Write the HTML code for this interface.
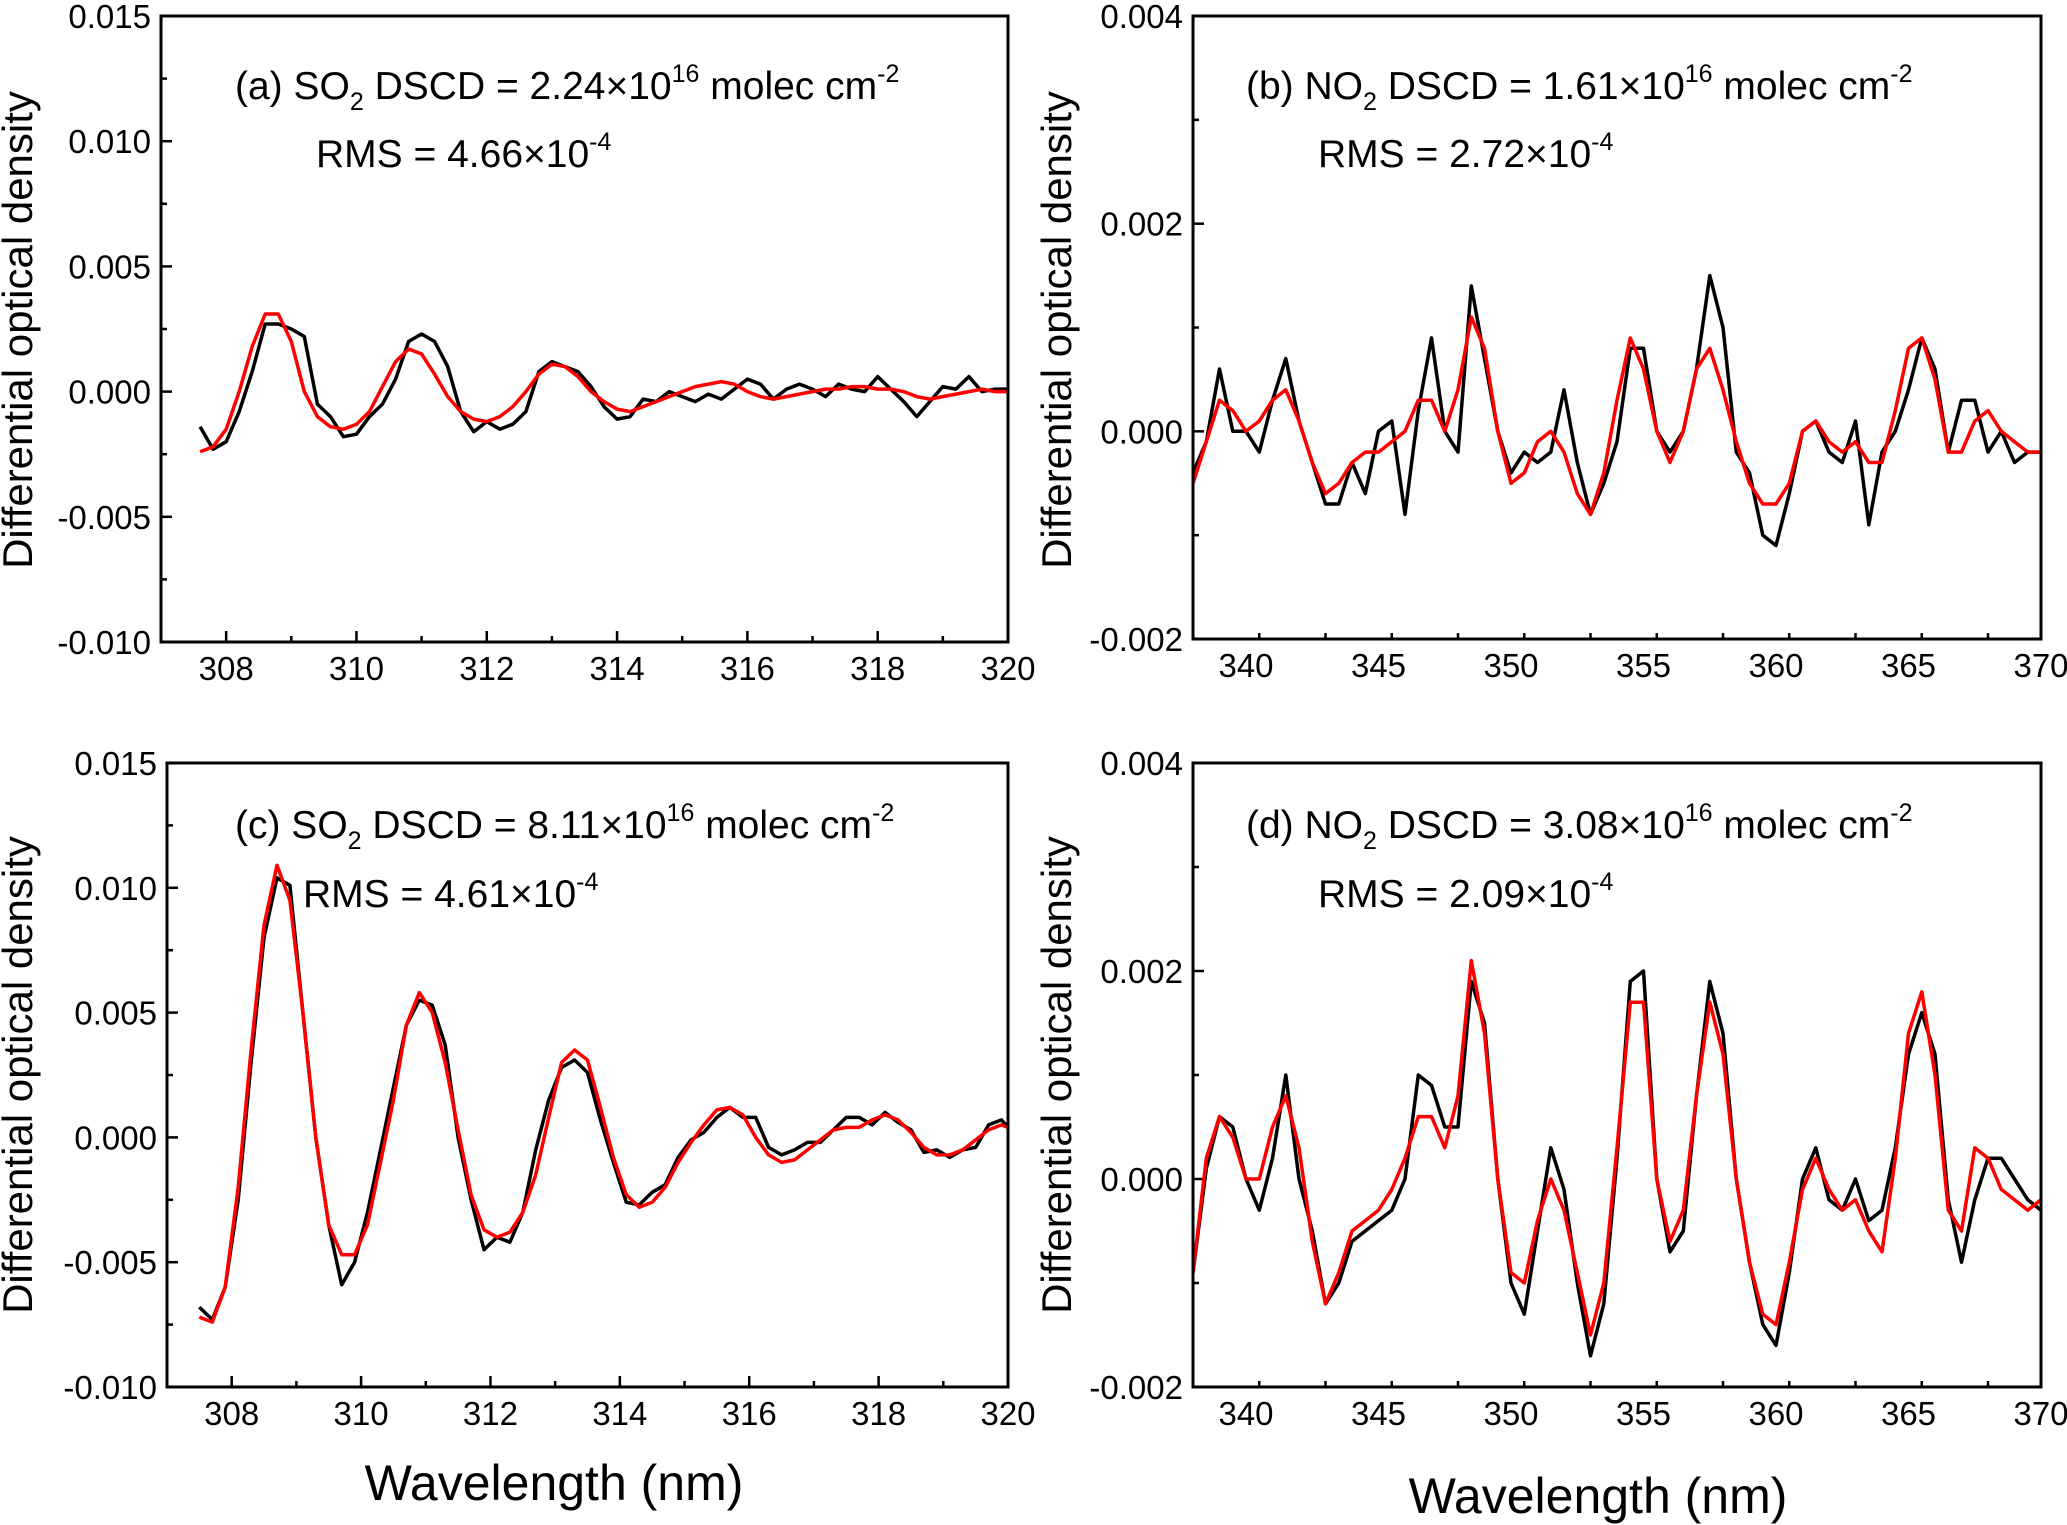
<!DOCTYPE html>
<html><head><meta charset="utf-8"><style>
html,body{margin:0;padding:0;background:#fff;}
svg{display:block;font-family:"Liberation Sans",Arial,sans-serif;}
</style></head><body>
<svg id="chart" width="2067" height="1525" viewBox="0 0 2067 1525" xmlns="http://www.w3.org/2000/svg"></svg>
<script>
const wlA=[307.6,307.8,308.0,308.2,308.4,308.6,308.8,309.0,309.2,309.4,309.6,309.8,310.0,310.2,310.4,310.6,310.8,311.0,311.2,311.4,311.6,311.8,312.0,312.2,312.4,312.6,312.8,313.0,313.2,313.4,313.6,313.8,314.0,314.2,314.4,314.6,314.8,315.0,315.2,315.4,315.6,315.8,316.0,316.2,316.4,316.6,316.8,317.0,317.2,317.4,317.6,317.8,318.0,318.2,318.4,318.6,318.8,319.0,319.2,319.4,319.6,319.8,320.0];
const measA=[-1.4,-2.3,-2.0,-0.8,0.8,2.7,2.7,2.5,2.2,-0.5,-1.0,-1.8,-1.7,-1.0,-0.5,0.5,2.0,2.3,2.0,1.0,-0.8,-1.6,-1.2,-1.5,-1.3,-0.8,0.8,1.2,1.0,0.8,0.2,-0.6,-1.1,-1.0,-0.3,-0.4,0.0,-0.2,-0.4,-0.1,-0.3,0.1,0.5,0.3,-0.3,0.1,0.3,0.1,-0.2,0.3,0.1,0.0,0.6,0.1,-0.4,-1.0,-0.4,0.2,0.1,0.6,0.0,0.1,0.1];
const fitA=[-2.4,-2.2,-1.5,0.0,1.8,3.1,3.1,2.0,0.0,-1.0,-1.4,-1.5,-1.3,-0.8,0.2,1.2,1.7,1.5,0.7,-0.2,-0.8,-1.1,-1.2,-1.0,-0.6,0.0,0.7,1.1,1.0,0.6,0.0,-0.4,-0.7,-0.8,-0.6,-0.4,-0.2,0.0,0.2,0.3,0.4,0.3,0.0,-0.2,-0.3,-0.2,-0.1,0.0,0.1,0.1,0.2,0.2,0.1,0.1,0.0,-0.2,-0.3,-0.2,-0.1,0.0,0.1,0.0,0.0];
const wlC=[307.5,307.7,307.9,308.1,308.3,308.5,308.7,308.9,309.1,309.3,309.5,309.7,309.9,310.1,310.3,310.5,310.7,310.9,311.1,311.3,311.5,311.7,311.9,312.1,312.3,312.5,312.7,312.9,313.1,313.3,313.5,313.7,313.9,314.1,314.3,314.5,314.7,314.9,315.1,315.3,315.5,315.7,315.9,316.1,316.3,316.5,316.7,316.9,317.1,317.3,317.5,317.7,317.9,318.1,318.3,318.5,318.7,318.9,319.1,319.3,319.5,319.7,319.9,320.0];
const measC=[-6.8,-7.3,-6.0,-2.5,3.0,8.0,10.4,10.1,5.0,0.0,-3.5,-5.9,-5.0,-3.0,-0.5,2.0,4.5,5.5,5.3,3.7,0.0,-2.5,-4.5,-4.0,-4.2,-3.0,-0.5,1.5,2.8,3.1,2.6,0.7,-1.0,-2.6,-2.7,-2.2,-1.9,-0.8,-0.1,0.2,0.8,1.2,0.8,0.8,-0.4,-0.7,-0.5,-0.2,-0.2,0.3,0.8,0.8,0.5,1.0,0.6,0.3,-0.6,-0.5,-0.8,-0.5,-0.4,0.5,0.7,0.4];
const fitC=[-7.2,-7.4,-6.0,-2.0,3.5,8.5,10.9,9.5,5.0,0.0,-3.5,-4.7,-4.7,-3.5,-1.0,1.5,4.5,5.8,5.0,3.0,0.3,-2.3,-3.7,-4.0,-3.8,-3.0,-1.5,0.8,3.0,3.5,3.1,1.2,-0.8,-2.3,-2.8,-2.6,-2.0,-1.0,-0.2,0.5,1.1,1.2,0.9,0.0,-0.7,-1.0,-0.9,-0.5,-0.1,0.3,0.4,0.4,0.7,0.9,0.7,0.2,-0.4,-0.7,-0.7,-0.5,-0.1,0.3,0.5,0.4];
const wlN=[338,338.5,339,339.5,340,340.5,341,341.5,342,342.5,343,343.5,344,344.5,345,345.5,346,346.5,347,347.5,348,348.5,349,349.5,350,350.5,351,351.5,352,352.5,353,353.5,354,354.5,355,355.5,356,356.5,357,357.5,358,358.5,359,359.5,360,360.5,361,361.5,362,362.5,363,363.5,364,364.5,365,365.5,366,366.5,367,367.5,368,368.5,369,369.5,370];
const measB=[-4,-1,6,0,0,-2,3,7,1,-3,-7,-7,-3,-6,0,1,-8,2,9,0,-2,14,7,0,-4,-2,-3,-2,4,-3,-8,-5,-1,8,8,0,-2,0,6,15,10,-2,-4,-10,-11,-6,0,1,-2,-3,1,-9,-2,0,4,9,6,-2,3,3,-2,0,-3,-2,-2];
const fitB=[-5,-1,3,2,0,1,3,4,1,-3,-6,-5,-3,-2,-2,-1,0,3,3,0,4,11,8,0,-5,-4,-1,0,-2,-6,-8,-4,3,9,6,0,-3,0,6,8,4,-1,-5,-7,-7,-5,0,1,-1,-2,-1,-3,-3,2,8,9,5,-2,-2,1,2,0,-1,-2,-2];
const measD=[-9,1,6,5,0,-3,2,10,0,-5,-12,-10,-6,-5,-4,-3,0,10,9,5,5,19,15,0,-10,-13,-5,3,-1,-10,-17,-12,2,19,20,0,-7,-5,8,19,14,0,-8,-14,-16,-9,0,3,-2,-3,0,-4,-3,3,12,16,12,-2,-8,-2,2,2,0,-2,-3];
const fitD=[-9,2,6,4,0,0,5,8,3,-6,-12,-9,-5,-4,-3,-1,2,6,6,3,8,21,14,0,-9,-10,-4,0,-3,-9,-15,-10,3,17,17,0,-6,-3,8,17,12,0,-8,-13,-14,-8,-1,2,-1,-3,-2,-5,-7,2,14,18,10,-3,-5,3,2,-1,-2,-3,-2];
const ticksSO2x=[308,310,312,314,316,318,320];
const ticksSO2y=["-0.010","-0.005","0.000","0.005","0.010","0.015"];
const ticksNO2x=[340,345,350,355,360,365,370];
const ticksNO2y=["-0.002","0.000","0.002","0.004"];

const svg=document.getElementById('chart');
const NS='http://www.w3.org/2000/svg';
function mk(tag,attrs,parent){const e=document.createElementNS(NS,tag);for(const k in attrs)e.setAttribute(k,attrs[k]);(parent||svg).appendChild(e);return e;}

function panel(id,box,xr,yr,xt,xminor,yt,yminor,yscale,wl,meas,fit,ann,rms){
  const g=mk('g',{});
  
  
  const [L,T,R,B]=box;
  const X=v=>L+(v-xr[0])/(xr[1]-xr[0])*(R-L);
  const Y=v=>B-(v-yr[0])/(yr[1]-yr[0])*(B-T);
  for(let v=xr[0];v<=xr[1]+1e-9;v+=xminor){
    const major=xt.some(t=>Math.abs(t-v)<1e-6);
    const t=mk('line',{x1:X(v),x2:X(v),y1:B,y2:B-(major?11:6),stroke:'#000','stroke-width':2.5},g);
    
    
  }
  xt.forEach(v=>{const t=mk('text',{x:X(v),y:B+38,'font-size':33,'text-anchor':'middle'},g);t.textContent=v;
    
    });
  for(let v=yr[0];v<=yr[1]+1e-9;v+=yminor){
    const major=yt.some(t=>Math.abs(parseFloat(t)-v)<1e-7);
    const t=mk('line',{x1:L,x2:L+(major?11:6),y1:Y(v),y2:Y(v),stroke:'#000','stroke-width':2.5},g);
    
    
  }
  yt.forEach(s=>{const t=mk('text',{x:L-10,y:Y(parseFloat(s))+12,'font-size':33,'text-anchor':'end'},g);t.textContent=s;
    
    });
  const clip=mk('clipPath',{id:'clip'+id},g);mk('rect',{x:L,y:T,width:R-L,height:B-T},clip);
  const pts=a=>a.map((v,i)=>X(wl[i]).toFixed(1)+','+Y(v*yscale).toFixed(1)).join(' ');
  const pm=mk('polyline',{points:pts(meas),fill:'none',stroke:'#000','stroke-width':3.5,'stroke-linejoin':'round','clip-path':'url(#clip'+id+')'},g);
  
  
  const pf=mk('polyline',{points:pts(fit),fill:'none',stroke:'#f00','stroke-width':3.5,'stroke-linejoin':'round','clip-path':'url(#clip'+id+')'},g);
  
  
  const fr=mk('rect',{x:L,y:T,width:R-L,height:B-T,fill:'none',stroke:'#000','stroke-width':3},g);
  
  
  const a=mk('text',{x:ann[0],y:ann[1],'font-size':39},g);a.innerHTML=ann[2];
  
  
  const r=mk('text',{x:rms[0],y:rms[1],'font-size':39},g);r.innerHTML=rms[2];
  
  
}
function dscd(lbl,sp,mol,val){
  return lbl+sp+mol+'<tspan font-size="25" dy="11">2</tspan><tspan dy="-11"> DSCD = '+val+'×10</tspan><tspan font-size="25" dy="-17">16</tspan><tspan dy="17"> molec cm</tspan><tspan font-size="25" dy="-17">-2</tspan>';
}
function rmsT(val){return 'RMS = '+val+'×10<tspan font-size="25" dy="-17">-4</tspan>';}
panel('a',[161,16,1008,642],[307,320],[-0.010,0.015],ticksSO2x,1,ticksSO2y,0.0025,1e-3,wlA,measA,fitA,
 [235,99,dscd('(a)','  ','SO','2.24')],[316,167,rmsT('4.66')]);
panel('b',[1193,16,2041,639],[338,370],[-0.002,0.004],ticksNO2x,2.5,ticksNO2y,0.001,1e-4,wlN,measB,fitB,
 [1246,99,dscd('(b)',' ','NO','1.61')],[1318,167,rmsT('2.72')]);
panel('c',[167,763,1008,1387],[307,320],[-0.010,0.015],ticksSO2x,1,ticksSO2y,0.0025,1e-3,wlC,measC,fitC,
 [235,838,dscd('(c)',' ','SO','8.11')],[303,907,rmsT('4.61')]);
panel('d',[1193,763,2041,1387],[338,370],[-0.002,0.004],ticksNO2x,2.5,ticksNO2y,0.001,1e-4,wlN,measD,fitD,
 [1246,838,dscd('(d)',' ','NO','3.08')],[1318,907,rmsT('2.09')]);
[[18,330],[1057,330],[18,1075],[1057,1075]].forEach(p=>{
  const t=mk('text',{x:0,y:0,'font-size':42,'text-anchor':'middle','transform':`translate(${p[0]+14},${p[1]}) rotate(-90)`});
  t.textContent='Differential  optical  density';
  
  
});
[[554,1500],[1598,1513]].forEach(p=>{
  const t=mk('text',{x:p[0],y:p[1],'font-size':50,'text-anchor':'middle'});
  t.textContent='Wavelength (nm)';
  
  
});
</script>
</body></html>
